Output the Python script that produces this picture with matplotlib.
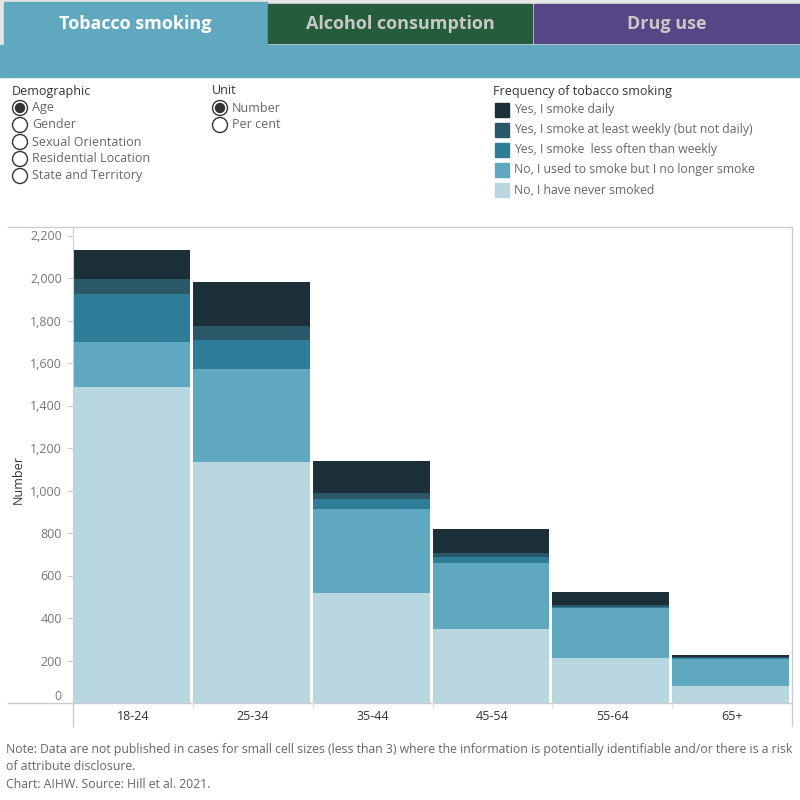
import matplotlib.pyplot as plt
from matplotlib.patches import Rectangle, Circle
from matplotlib.lines import Line2D

plt.rcParams['font.family'] = ['Open Sans', 'DejaVu Sans']

# Datos (número de personas)
age_groups = ['18-24', '25-34', '35-44', '45-54', '55-64', '65+']
never_smoked = [1485, 1132, 520, 346, 214, 82]
used_to_smoke = [213, 442, 395, 315, 231, 123]
less_than_weekly = [229, 132, 43, 28, 9, 5]
at_least_weekly = [66, 66, 28, 19, 9, 5]
daily = [141, 207, 155, 113, 61, 10]

series_labels = ['No, I have never smoked',
                 'No, I used to smoke but I no longer smoke',
                 'Yes, I smoke  less often than weekly',
                 'Yes, I smoke at least weekly (but not daily)',
                 'Yes, I smoke daily']
series_colors = ['#b9d7e0', '#60a8bf', '#2d7d99', '#2a5868', '#1b2f38']
series_values = [never_smoked, used_to_smoke, less_than_weekly,
                 at_least_weekly, daily]

demographics = ['Age', 'Gender', 'Sexual Orientation', 'Residential Location',
                'State and Territory']
units = ['Number', 'Per cent']
y_ticks = list(range(0, 2201, 200))

W, H = 800, 800
fig = plt.figure(figsize=(8, 8), dpi=100)


def fx(px):
    return px / W


def fy(py):
    return 1 - py / H


# Pestañas superiores
fig.patches.append(Rectangle((0, fy(45)), 1, 45 / H, transform=fig.transFigure,
                             color='#e6e6e6', zorder=0))
fig.patches.append(Rectangle((0, fy(77)), 1, 32 / H, transform=fig.transFigure,
                             color='#60a8bf', zorder=1))
tabs = [('Tobacco smoking', 4, 267, 2, '#60a8bf', 'white'),
        ('Alcohol consumption', 268, 532, 4, '#245c3c', '#c8c8c8'),
        ('Drug use', 534, 800, 4, '#574685', '#c8c8c8')]
for name, x0, x1, y0, col, tcol in tabs:
    bottom = 45 if col == '#60a8bf' else 43
    fig.patches.append(Rectangle((fx(x0), fy(bottom)), fx(x1 - x0), (bottom - y0) / H,
                                 transform=fig.transFigure, color=col, zorder=2))
    fig.text(fx((x0 + x1) / 2), fy(24), name, ha='center', va='center',
             fontsize=13, fontweight='bold', color=tcol, zorder=3)

# Controles (radio buttons)
fig.text(fx(12), fy(91), 'Demographic', fontsize=9, color='#333333', va='center')
for i, d in enumerate(demographics):
    yy = 108 + i * 17
    fig.patches.append(Circle((fx(20), fy(yy)), 7.5 / W, transform=fig.transFigure,
                              facecolor='white', edgecolor='#333333', lw=1))
    if i == 0:
        fig.patches.append(Circle((fx(20), fy(yy)), 4.5 / W, transform=fig.transFigure,
                                  color='#333333'))
    fig.text(fx(32), fy(yy), d, fontsize=9, color='#666666', va='center')

fig.text(fx(212), fy(91), 'Unit', fontsize=9, color='#333333', va='center')
for i, u in enumerate(units):
    yy = 108 + i * 17
    fig.patches.append(Circle((fx(220), fy(yy)), 7.5 / W, transform=fig.transFigure,
                              facecolor='white', edgecolor='#333333', lw=1))
    if i == 0:
        fig.patches.append(Circle((fx(220), fy(yy)), 4.5 / W, transform=fig.transFigure,
                                  color='#333333'))
    fig.text(fx(232), fy(yy), u, fontsize=9, color='#666666', va='center')

# Leyenda
fig.text(fx(493), fy(92), 'Frequency of tobacco smoking', fontsize=9,
         color='#333333', va='center')
for i, k in enumerate(range(4, -1, -1)):
    yy = 110 + i * 20
    fig.patches.append(Rectangle((fx(495), fy(yy + 7)), 14 / W, 14 / H,
                                 transform=fig.transFigure, color=series_colors[k]))
    fig.text(fx(514), fy(yy), series_labels[k], fontsize=8.8, color='#666666',
             va='center')

# Gráfico
ax = fig.add_axes([fx(73), fy(703), fx(792 - 73), (703 - 227) / H])
bottoms = [0] * len(age_groups)
for vals, col, lab in zip(series_values, series_colors, series_labels):
    ax.bar(range(len(age_groups)), vals, width=0.975, bottom=bottoms, color=col,
           label=lab, linewidth=0, align='edge')
    bottoms = [b + v for b, v in zip(bottoms, vals)]

ax.set_xlim(0, len(age_groups))
ax.set_ylim(0, 2240)
ax.set_yticks(y_ticks)
ax.set_yticklabels([f'{t:,}' for t in y_ticks], fontsize=9, color='#777777')
ax.get_yticklabels()[0].set_va('bottom')
ax.tick_params(axis='y', length=4, color='#cccccc', pad=4)
ax.set_xticks([])
for s in ['top', 'right', 'bottom']:
    ax.spines[s].set_visible(False)
ax.spines['left'].set_color('#cccccc')

# Líneas de marco
fig.add_artist(Line2D([fx(8), fx(792)], [fy(227), fy(227)], color='#cccccc', lw=1))
fig.add_artist(Line2D([fx(8), fx(792)], [fy(703), fy(703)], color='#cccccc', lw=1))
fig.add_artist(Line2D([fx(73), fx(73)], [fy(703), fy(726)], color='#cccccc', lw=1))
fig.add_artist(Line2D([fx(792), fx(792)], [fy(227), fy(726)], color='#cccccc', lw=1))

slot = (792 - 73) / len(age_groups)
for i, g in enumerate(age_groups):
    fig.text(fx(73 + slot * (i + 0.5)), fy(716), g, ha='center', va='center',
             fontsize=9, color='#333333')
    if i > 0:
        fig.add_artist(Line2D([fx(73 + slot * i)] * 2, [fy(703), fy(708)],
                              color='#e6e6e6', lw=1))

fig.text(fx(18), fy(480), 'Number', rotation=90, ha='center', va='center',
         fontsize=9, color='#333333')

# Notas
fig.text(fx(6), fy(750), 'Note: Data are not published in cases for small cell sizes '
         '(less than 3) where the information is potentially identifiable and/or '
         'there is a risk', fontsize=8.8, color='#666666', va='center')
fig.text(fx(6), fy(767), 'of attribute disclosure.', fontsize=8.8, color='#666666',
         va='center')
fig.text(fx(6), fy(784), 'Chart: AIHW. Source: Hill et al. 2021.', fontsize=8.8,
         color='#666666', va='center')

plt.savefig('out.png', dpi=100)
